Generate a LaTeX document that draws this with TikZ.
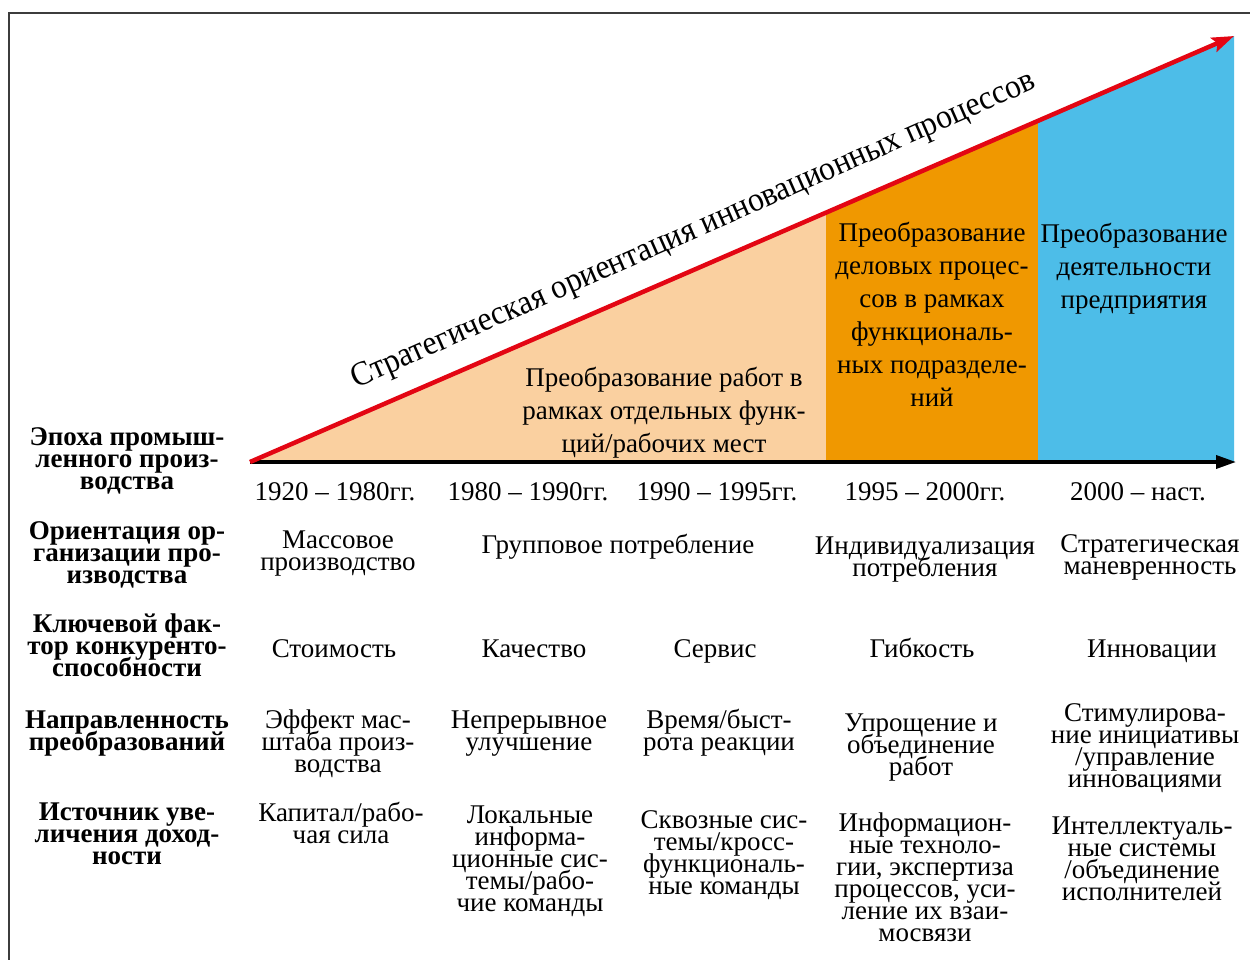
\documentclass[tikz,border=0pt]{standalone}
\usepackage{fontspec}
\setmainfont{Liberation Serif}
\usetikzlibrary{arrows.meta}
\definecolor{peach}{RGB}{250,208,160}
\definecolor{orng}{RGB}{240,152,0}
\definecolor{skyb}{RGB}{77,189,232}
\definecolor{redl}{RGB}{227,6,19}
\definecolor{framec}{RGB}{60,60,60}
\newcommand\tightls{\lineskiplimit=-100pt\relax}
\begin{document}
\begin{tikzpicture}[x=1pt,y=-1pt,
  lbl/.style={font={\bfseries\fontsize{27}{22}\selectfont\tightls}, align=center, anchor=base, inner sep=0pt},
  cell/.style={font={\fontsize{27}{22}\selectfont\tightls}, align=center, anchor=base, inner sep=0pt},
  zone/.style={font=\fontsize{27}{33}\selectfont, align=center, anchor=base, inner sep=0pt},
  redarrow/.style={draw=redl, line width=4.5pt, -{Stealth[length=22pt,width=15pt,inset=4pt]}},
  axisarrow/.style={draw=black, line width=3.5pt, -{Triangle[length=20pt,width=13pt]}},
  framel/.style={draw=framec, line width=2pt}
]
\useasboundingbox (0,0) rectangle (1250,960);
\fill[white] (0,0) rectangle (1250,960);
% frame
\draw[framel] (9,960) -- (9,13) -- (1250,13);
% coordinates
\coordinate (o) at (250,462);
\coordinate (tip) at (1234,36);
\coordinate (xend) at (1236,462);
% zones
\fill[peach] (250,462) -- (826,462) -- (826,213) -- cycle;
\fill[orng] (826,462) -- (1038,462) -- (1038,121.3) -- (826,213) -- cycle;
\fill[skyb] (1038,462) -- (1234,462) -- (1234,36) -- (1038,121.3) -- cycle;
% arrows
\draw[axisarrow] (o) -- (xend);
\draw[redarrow] (o) -- (tip);
% title
\node[font=\fontsize{34}{34}\selectfont, rotate=23.8, xscale=0.93, anchor=base, inner sep=0pt] (title) at (697,238) {Стратегическая ориентация инновационных процессов};
% zone texts
\node[zone] (z1) at (664,452) {Преобразование работ в\\рамках отдельных функ-\\ций/рабочих мест};
\node[zone] (z2) at (932,406) {Преобразование\\деловых процес-\\сов в рамках\\функциональ-\\ных подразделе-\\ний};
\node[zone] (z3) at (1134,308) {Преобразование\\деятельности\\предприятия};
% left labels
\node[lbl] (l1) at (127,489) {Эпоха промыш-\\ленного произ-\\водства};
\node[lbl] (l2) at (127,583) {Ориентация ор-\\ганизации про-\\изводства};
\node[lbl] (l3) at (127,676) {Ключевой фак-\\тор конкуренто-\\способности};
\node[lbl] (l4) at (127,750) {Направленность\\преобразований};
\node[lbl] (l5) at (127,864) {Источник уве-\\личения доход-\\ности};
% years
\node[cell] (y1) at (335,500) {1920 – 1980гг.};
\node[cell] (y2) at (528,500) {1980 – 1990гг.};
\node[cell] (y3) at (717,500) {1990 – 1995гг.};
\node[cell] (y4) at (925,500) {1995 – 2000гг.};
\node[cell] (y5) at (1138,500) {2000 – наст.};
% row 2
\node[cell] (a1) at (338,570) {Массовое\\производство};
\node[cell] (a2) at (618,553) {Групповое потребление};
\node[cell] (a4) at (925,576) {Индивидуализация\\потребления};
\node[cell] (a5) at (1150,574) {Стратегическая\\маневренность};
% row 3
\node[cell] (b1) at (334,657) {Стоимость};
\node[cell] (b2) at (534,657) {Качество};
\node[cell] (b3) at (715,657) {Сервис};
\node[cell] (b4) at (922,657) {Гибкость};
\node[cell] (b5) at (1152,657) {Инновации};
% row 4
\node[cell] (c1) at (338,772) {Эффект мас-\\штаба произ-\\водства};
\node[cell] (c2) at (529,750) {Непрерывное\\улучшение};
\node[cell] (c3) at (719,750) {Время/быст-\\рота реакции};
\node[cell] (c4) at (921,775) {Упрощение и\\объединение\\работ};
\node[cell] (c5) at (1145,787) {Стимулирова-\\ние инициативы\\/управление\\инновациями};
% row 5
\node[cell] (d1) at (341,843) {Капитал/рабо-\\чая сила};
\node[cell] (d2) at (530,911) {Локальные\\информа-\\ционные сис-\\темы/рабо-\\чие команды};
\node[cell] (d3) at (724,894) {Сквозные сис-\\темы/кросс-\\функциональ-\\ные команды};
\node[cell] (d4) at (925,941) {Информацион-\\ные техноло-\\гии, экспертиза\\процессов, уси-\\ление их взаи-\\мосвязи};
\node[cell] (d5) at (1142,900) {Интеллектуаль-\\ные системы\\/объединение\\исполнителей};
\end{tikzpicture}
\end{document}
